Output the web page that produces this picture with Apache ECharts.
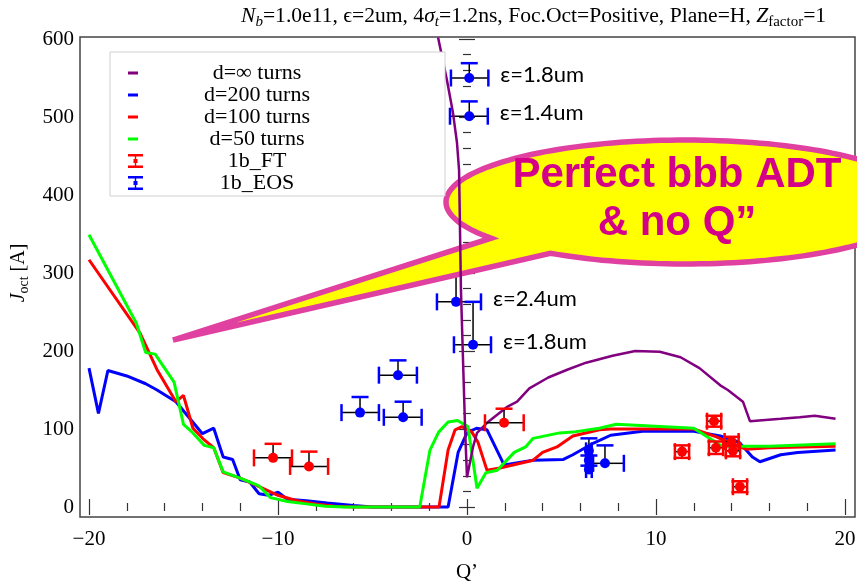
<!DOCTYPE html>
<html><head><meta charset="utf-8">
<script src="https://cdn.jsdelivr.net/npm/echarts@6/dist/echarts.min.js"></script>
<style>html,body{margin:0;padding:0;background:#fff}#c{width:857px;height:585px}</style>
</head><body><div id="c"></div>
<script>
// ---- data ----
const seriesNames = ['d=\u221e turns', 'd=200 turns', 'd=100 turns', 'd=50 turns', '1b_FT', '1b_EOS'];

const infQ = [-1.53,-1.06,-0.74,-0.53,-0.42,-0.37,-0.32,-0.21,-0.1,0,0.32,0.53,1.06,2.1,2.65,3.3,4.3,5.3,6.3,7.7,8.9,10.2,11.3,12.3,13.4,13.8,14.6,14.97,16.6,17.6,18.4,19.5];
const infJ = [602,547,505,467,432,355,278,188,99,38,77,95,108,128,135,152,166,176,185,194,200,199,192,178,156,150,135,110,113,115,117,113];

const d200Q = [-20,-19.5,-19,-18,-17,-16.4,-15.4,-14,-13.4,-12.9,-12.4,-12,-11.5,-11,-10.5,-10,-9.5,-8.5,-7.4,-6,-5,-1.0,-0.47,0,0.5,1.06,1.96,3.5,5.1,5.6,6.7,7.6,9.3,12,13.4,14.4,15.1,15.5,16.6,17.5,19.5];
const d200J = [178,120,175,168,158,150,135,94,101,64,61,35,32,17,15,19,10,8,5,2,0,0,70,95,101,99,54,60,61,67,82,92,97,97,91,83,64,58,67,70,73];

const d100Q = [-20,-17.3,-16.4,-15.4,-15,-14.5,-13.9,-13.4,-12.9,-12,-11,-10,-9,-8,-7,-6,-1.48,-1.0,-0.63,-0.27,0.26,0.58,1.06,1.75,3.5,4.0,4.76,5.6,7,7.6,12,13.2,14.1,14.8,16,19.5];
const d100J = [317,223,176,135,143,101,86,76,44,37,26,15,8,4,1,0,0,73,99,103,96,83,47,50,60,70,77,91,99,100,100,90,80,74,76,78];

const d50Q = [-20,-17.5,-17,-16.5,-15.5,-15,-14.5,-13.9,-13.4,-12.9,-12,-11,-10.4,-9.5,-8.5,-7.5,-6.5,-2.5,-1.96,-1.5,-1.0,-0.5,0.05,0.53,1.0,1.6,2.5,3.1,3.5,4.9,5.6,7,7.9,12,13.5,16,19.5];
const d50J = [349,236,198,196,160,106,95,79,76,45,37,27,12,7,4,1,0,0,73,96,109,111,103,24,44,47,70,77,88,95,96,101,106,101,78,78,81];

// 1b_FT : centre, x-range, upper / lower J
const ftQ   = [-10.26,-8.36,1.96,11.38,13.07,13.17,14.0,14.07,14.44];
const ftJ   = [63,52,108,71,110,76,84,72,26];
const ftXlo = [-11.27,-9.36,0.95,11.0,12.7,12.8,13.63,13.7,14.07];
const ftXhi = [-9.26,-7.35,3.0,11.75,13.45,13.55,14.37,14.45,14.82];
const ftYhi = [81,71,126,79,117,84,90,80,33];
const ftYlo = [63,52,108,63,103,68,78,65,19];

// 1b_EOS
const eosQ   = [0.12,0.12,-0.58,0.32,-3.65,-5.66,-3.38,6.45,6.45,6.45,7.3];
const eosJ   = [550,501,263,208,169,121,115,72,60,48,56];
const eosXlo = [-0.85,-0.9,-1.59,-0.69,-4.66,-6.64,-4.4,6.3,6.3,6.3,6.67];
const eosXhi = [1.13,1.1,0.74,1.27,-2.65,-4.66,-2.4,6.6,6.6,6.6,8.3];
const eosYhi = [569,520,320,263,188,141,135,88,66,53,79];
const eosYlo = [550,501,263,208,169,121,115,72,60,48,56];
const eosLabels = ['\u03b5=1.8um','\u03b5=1.4um','\u03b5=2.4um','\u03b5=1.8um','','','','','','',''];

const xTickFmt = v => (v < 0 ? '\u2212' + (-v) : String(v));

// ---- build ----
const zip = (a, b) => a.map((v, i) => [v, b[i]]);
const serif = 'Liberation Serif';

function errRender(color, labels) {
  return function (params, api) {
    const q = api.value(0), j = api.value(1);
    const c = api.coord([q, j]);
    const L = api.coord([api.value(2), j]);
    const R = api.coord([api.value(3), j]);
    const T = api.coord([q, api.value(4)]);
    const B = api.coord([q, api.value(5)]);
    const cap = 8.5;
    const black = {stroke: '#000', lineWidth: 1.5};
    const col = {stroke: color, lineWidth: 2.5};
    const ch = [
      {type: 'line', shape: {x1: L[0], y1: c[1], x2: R[0], y2: c[1]}, style: black},
      {type: 'line', shape: {x1: c[0], y1: T[1], x2: c[0], y2: B[1]}, style: black},
      {type: 'line', shape: {x1: L[0], y1: c[1] - cap, x2: L[0], y2: c[1] + cap}, style: col},
      {type: 'line', shape: {x1: R[0], y1: c[1] - cap, x2: R[0], y2: c[1] + cap}, style: col},
      {type: 'line', shape: {x1: c[0] - cap, y1: T[1], x2: c[0] + cap, y2: T[1]}, style: col}
    ];
    if (B[1] - c[1] > 0.5) ch.push({type: 'line', shape: {x1: c[0] - cap, y1: B[1], x2: c[0] + cap, y2: B[1]}, style: col});
    ch.push({type: 'circle', shape: {cx: c[0], cy: c[1], r: 5}, style: {fill: color}});
    const lab = labels && labels[params.dataIndex];
    if (lab) ch.push({type: 'text', x: R[0] + 12, y: c[1] - 3,
      style: {text: lab, fill: '#000', font: '22px Lato', align: 'left', verticalAlign: 'middle'}});
    return {type: 'group', children: ch};
  };
}

// callout bubble outline (ellipse + tail), in pixels
function bubblePoints() {
  const cx = 685, cy = 202, rx = 239, ry = 62;
  const a0 = 144.3, a1 = 124.7 + 360;
  const pts = [];
  for (let a = a0; a <= a1 + 0.01; a += 2) {
    const t = a * Math.PI / 180;
    pts.push([cx + rx * Math.cos(t), cy + ry * Math.sin(t)]);
  }
  pts.push([173, 340]);
  return pts;
}

const lineIcon = 'path://M0,0L0.01,0L0,0.01Z M0,5.5L10,5.5L10,8.5L0,8.5Z M15,14L14.99,14L15,13.99Z';
const errIcon = 'path://M0,0L15,0L15,2.5L8.2,2.5L8.2,5L9.5,5L9.5,9L8.2,9L8.2,11.5L15,11.5L15,14L0,14L0,11.5L6.8,11.5L6.8,9L5.5,9L5.5,5L6.8,5L6.8,2.5L0,2.5Z';

const tickLine = {color: '#333', width: 1.2};
function xAx(pos, off, show) {
  return {type: 'value', min: -20, max: 20, interval: 10, position: pos, offset: off, gridIndex: 0,
    axisLine: {show: false}, splitLine: {show: false},
    axisTick: {show: true, inside: true, length: 8, lineStyle: tickLine},
    minorTick: {show: true, splitNumber: 5, length: 4, lineStyle: tickLine},
    axisLabel: {show: show, margin: 12, color: '#000', fontFamily: serif, fontSize: 21, formatter: xTickFmt}};
}
function yAx(pos, off, show) {
  return {type: 'value', min: 0, max: 600, interval: 100, position: pos, offset: off, gridIndex: 0,
    axisLine: {show: false}, splitLine: {show: false},
    axisTick: {show: true, inside: true, length: 8, lineStyle: tickLine},
    minorTick: {show: true, splitNumber: 5, length: 4, lineStyle: tickLine},
    axisLabel: {show: show, margin: 6, color: '#000', fontFamily: serif, fontSize: 21}};
}

const xA0 = xAx('bottom', 10, true);
xA0.name = 'Q\u2019'; xA0.nameLocation = 'middle'; xA0.nameGap = 45;
xA0.nameTextStyle = {fontFamily: serif, fontSize: 21, color: '#000'};
const yA0 = yAx('left', 9, true);
yA0.name = '{i|J}{s|oct}{r| [A]}'; yA0.nameLocation = 'middle'; yA0.nameGap = 47;
yA0.nameTextStyle = {rich: {
  i: {fontFamily: serif, fontStyle: 'italic', fontSize: 20, color: '#000', lineHeight: 20},
  s: {fontFamily: serif, fontSize: 14, color: '#000', lineHeight: 14, padding: [12, 0, 0, 0]},
  r: {fontFamily: serif, fontSize: 20, color: '#000', lineHeight: 20}}};

const lineSeries = (name, q, j, color, w) => ({name, type: 'line', data: zip(q, j), showSymbol: false,
  symbol: 'none', clip: false, lineStyle: {color, width: w}, itemStyle: {color}, z: 3});

const errData = (q, j, xl, xh, yh, yl) => q.map((v, i) => [v, j[i], xl[i], xh[i], yh[i], yl[i]]);

const tR = {fontFamily: serif, fontSize: 21.6, fontWeight: 'normal', color: '#000', lineHeight: 22};
const tS = {fontFamily: serif, fontWeight: 'normal', fontSize: 15, color: '#000', lineHeight: 15, padding: [13, 0, 0, 0]};
const option = {
  animation: false,
  backgroundColor: '#fff',
  title: {
    text: '{i|N}{s|b}{r|=1.0e11, \u03f5=2um, 4}{i|\u03c3}{s|t}{r|=1.2ns, Foc.Oct=Positive, Plane=H, }{i|Z}{u|factor}{r|=1}',
    left: 236, top: 0,
    textStyle: {fontWeight: 'normal', fontFamily: serif, rich: {
      r: tR,
      i: Object.assign({}, tR, {fontStyle: 'italic'}),
      s: Object.assign({}, tS, {fontStyle: 'italic'}),
      u: tS}}
  },
  grid: [
    {left: 89, right: 12, top: 39, bottom: 78, show: false, containLabel: false, outerBoundsMode: 'none'},
    {left: 80, right: 2, top: 37, bottom: 68, show: true, borderColor: '#444', borderWidth: 1.5,
      backgroundColor: 'transparent', z: 0, containLabel: false, outerBoundsMode: 'none'}
  ],
  xAxis: [xA0, xAx('top', 2, false)],
  yAxis: [yA0, yAx('right', 10, false)],
  legend: {
    orient: 'vertical', left: 110, top: 52, padding: [10, 79, 2, 18], itemGap: 0,
    itemWidth: 15, itemHeight: 14, backgroundColor: '#fff', borderColor: '#d0d0d0', borderWidth: 1,
    itemStyle: {borderWidth: 0}, inactiveColor: '#ccc',
    formatter: n => '{a|' + n + '}',
    textStyle: {rich: {a: {width: 218, align: 'center', fontFamily: serif, fontSize: 22, lineHeight: 19, color: '#000'}}},
    data: [
      {name: seriesNames[0], icon: lineIcon}, {name: seriesNames[1], icon: lineIcon},
      {name: seriesNames[2], icon: lineIcon}, {name: seriesNames[3], icon: lineIcon},
      {name: seriesNames[4], icon: errIcon}, {name: seriesNames[5], icon: errIcon}]
  },
  graphic: [
    {type: 'polygon', z: 2, shape: {points: bubblePoints()},
      style: {fill: '#ffff00', stroke: '#e040a0', lineWidth: 5.5, lineJoin: 'miter'}},
    {type: 'text', z: 2, x: 677, y: 199,
      style: {text: 'Perfect bbb ADT\n& no Q\u201d', font: 'bold 42px "Liberation Sans"', fill: '#d4008a',
        align: 'center', verticalAlign: 'middle', lineHeight: 48}}
  ],
  series: [
    lineSeries(seriesNames[1], d200Q, d200J, '#0000ff', 3),
    lineSeries(seriesNames[2], d100Q, d100J, '#ff0000', 3),
    lineSeries(seriesNames[3], d50Q, d50J, '#00ff00', 3),
    {name: seriesNames[4], type: 'custom', xAxisIndex: 0, yAxisIndex: 0, z: 4, itemStyle: {color: '#ff0000'},
      encode: {x: 0, y: 1}, renderItem: errRender('#ff0000', null),
      data: errData(ftQ, ftJ, ftXlo, ftXhi, ftYhi, ftYlo)},
    {name: seriesNames[5], type: 'custom', xAxisIndex: 0, yAxisIndex: 0, z: 1, itemStyle: {color: '#0000ff'},
      encode: {x: 0, y: 1}, renderItem: errRender('#0000ff', eosLabels),
      data: errData(eosQ, eosJ, eosXlo, eosXhi, eosYhi, eosYlo)},
    lineSeries(seriesNames[0], infQ, infJ, '#800080', 2.5)
  ]
};

const chart = echarts.init(document.getElementById('c'), null, {renderer: 'canvas'});
chart.setOption(option);
</script></body></html>
